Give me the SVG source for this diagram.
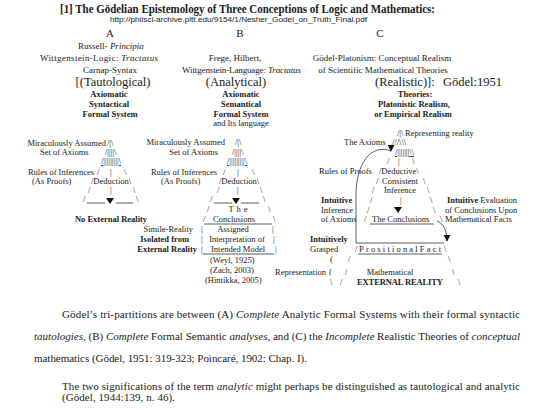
<svg xmlns="http://www.w3.org/2000/svg" width="540" height="410" viewBox="0 0 540 410">
<defs>
<style>
.t{font-family:"Liberation Serif","Times New Roman",serif;font-size:8.5px;fill:#1a1a1a}
.h{font-size:9px}
.b{font-weight:bold}
.big{font-size:12.5px}
.let{font-size:11px}
.m{text-anchor:middle}
.e{text-anchor:end}
.u{text-decoration:underline}
.ln{stroke:#333;stroke-width:0.8;fill:none}
.cap{font-family:"Liberation Serif","Times New Roman",serif;font-size:11px;fill:#1a1a1a}
.i{font-style:italic}
</style>
<marker id="tri" viewBox="0 0 10 10" refX="9" refY="5" markerWidth="7" markerHeight="7" markerUnits="userSpaceOnUse" orient="90">
<path d="M0,0 L10,5 L0,10 Z" fill="#111"/>
</marker>
</defs>
<rect width="540" height="410" fill="#fff"/>

<g id="title">
<text x="247.5" y="13" class="t b m" style="font-size:12.5px" textLength="375" lengthAdjust="spacingAndGlyphs">[1] The Gödelian Epistemology of Three Conceptions of Logic and Mathematics:</text>
<text x="110" y="22" style="font-family:'Liberation Sans',Arial,sans-serif;font-size:7.5px;fill:#1a1a1a" textLength="257" lengthAdjust="spacingAndGlyphs">http://philsci-archive.pitt.edu/9154/1/Nesher_Godel_on_Truth_Final.pdf</text>
</g>

<g id="colA" class="t">
<text x="110" y="37" class="let m">A</text>
<text x="111" y="49" class="h m">Russell- <tspan class="i">Principia</tspan></text>
<text x="40" y="61" class="h" textLength="118">Wittgenstein-Logic: <tspan class="i">Tractatus</tspan></text>
<text x="110" y="73" class="h m">Carnap-Syntax</text>
<text x="113" y="86" class="big m">[(Tautological)</text>
<text x="109" y="97" class="b m">Axiomatic</text>
<text x="109" y="107" class="b m">Syntactical</text>
<text x="110" y="117" class="b m">Formal System</text>
</g>

<g id="colB" class="t">
<text x="240" y="37" class="let m">B</text>
<text x="235" y="61" class="h m">Frege, Hilbert,</text>
<text x="182" y="73" class="h" textLength="119">Wittgenstein-Language: <tspan class="i">Tractatus</tspan></text>
<text x="236" y="86" class="big m">(Analytical)</text>
<text x="241" y="97" class="b m">Axiomatic</text>
<text x="241" y="107" class="b m">Semantical</text>
<text x="241" y="117" class="b m">Formal System</text>
<text x="241" y="126" class="m">and Its language</text>
</g>

<g id="colC" class="t">
<text x="380" y="37" class="let m">C</text>
<text x="382" y="61" class="h m">Gödel-Platonism: Conceptual Realism</text>
<text x="383" y="73" class="h m">of Scientific Mathematical Theories</text>
<text x="375" y="86" class="big">(Realistic)]:</text>
<text x="443" y="86" class="big">Gödel:1951</text>
<text x="415" y="97" class="b m">Theories:</text>
<text x="414" y="107" class="b m">Platonistic Realism,</text>
<text x="413" y="117" class="b m">or Empirical Realism</text>
</g>

<g id="pyramidA" class="t">
<text x="106" y="146" class="e">Miraculously Assumed</text>
<text x="107" y="146">/|\</text>
<text x="40" y="155">Set of Axioms</text>
<text x="105" y="155">/||||\</text>
<text x="101" y="164" class="u">/|||||||||\</text>
<text x="94" y="175" class="e">Rules of Inferences</text>
<text x="97" y="175">/</text><text x="110" y="175">|</text><text x="124" y="175">\</text>
<text x="32" y="184">(As Proofs)</text>
<text x="91" y="184">/Deduction\</text>
<text x="88" y="193">/</text><text x="110" y="193">|</text><text x="133" y="193">\</text>
<text x="83" y="202">/</text><text x="136" y="202">\</text>
<line class="ln" x1="87" y1="203" x2="105" y2="203"/>
<line class="ln" x1="116" y1="203" x2="133" y2="203"/>
<polygon points="106,198 114,198 110,204" fill="#111"/>
<text x="111" y="222" class="b m">No External Reality</text>
<text x="193" y="232" class="e">Simile-Reality</text>
<text x="189" y="242" class="b e">Isolated from</text>
<text x="197" y="252" class="b e">External Reality</text>
</g>

<g id="pyramidB" class="t">
<text x="225" y="145" class="e">Miraculously Assumed</text>
<text x="235" y="145">/|\</text>
<text x="218" y="155" class="e">Set of Axioms</text>
<text x="232" y="155">/||||\</text>
<text x="227" y="164" class="u">/|||||||||\</text>
<text x="217" y="175" class="e">Rules of Inferences</text>
<text x="223" y="175">/</text><text x="237" y="175">|</text><text x="252" y="175">\</text>
<text x="161" y="184">(As Proofs)</text>
<text x="219" y="184">/Deduction\</text>
<text x="217" y="193">/</text><text x="237" y="193">|</text><text x="260" y="193">\</text>
<text x="210" y="202">/</text><text x="263" y="202">\</text>
<line class="ln" x1="214" y1="203" x2="232" y2="203"/>
<line class="ln" x1="241" y1="203" x2="259" y2="203"/>
<polygon points="232,198 240,198 236,204" fill="#111"/>
<text x="207" y="212">/</text>
<text x="238" y="212" class="m" textLength="19">The</text>
<text x="268" y="212">\</text>
<text x="203" y="222">/</text>
<text x="234" y="222" class="m">Conclusions</text>
<text x="273" y="222">\</text>
<line class="ln" x1="204" y1="224" x2="272" y2="224"/>
<text x="201" y="232">|</text><text x="233" y="232" class="m">Assigned</text><text x="272" y="232">|</text>
<text x="201" y="242">|</text><text x="237" y="242" class="m">Interpretation of</text><text x="273" y="242">|</text>
<text x="201" y="252">|</text><text x="238" y="252" class="m">Intended Model</text><text x="275" y="252">|</text>
<line class="ln" x1="203" y1="254" x2="274" y2="254"/>
<text x="210" y="263">(Weyl, 1925)</text>
<text x="210" y="273">(Zach, 2003)</text>
<text x="205" y="283">(Hintikka, 2005)</text>
</g>

<g id="pyramidC" class="t">
<text x="397" y="136">/|\</text>
<text x="405" y="136">Representing reality</text>
<text x="344" y="145">The Axioms</text>
<text x="392" y="145">///\\\</text>
<text x="395" y="155" class="u">/|||||||\\</text>
<text x="387" y="164">/</text><text x="398" y="164">|</text><text x="412" y="164">\</text>
<text x="319" y="174">Rules of Proofs</text>
<text x="379" y="174">/Deductive\</text>
<text x="376" y="184">/</text><text x="400" y="184" class="m">Consistent</text><text x="423" y="184">\</text>
<text x="372" y="193">/</text><text x="400" y="193" class="m">Inference</text><text x="427" y="193">\</text>
<text x="321" y="203" class="b">Intuitive</text>
<text x="370" y="203">/</text><text x="400" y="203">|</text><text x="430" y="203">\</text>
<text x="447" y="203"><tspan class="b">Intuitive</tspan> Evaluation</text>
<text x="321" y="213">Inference</text>
<text x="367" y="213">/</text><text x="433" y="213">\</text>
<polygon points="394,207 402,207 398,213" fill="#111"/>
<text x="445" y="213">of Conclusions Upon</text>
<text x="321" y="222">of Axioms</text>
<text x="364" y="222">/</text>
<text x="372" y="222">The Conclusions</text>
<line class="ln" x1="370" y1="224" x2="434" y2="224"/>
<text x="440" y="222">\</text>
<text x="445" y="222">Mathematical Facts</text>
<text x="310" y="242" class="b">Intuitively</text>
<text x="310" y="252">Grasped</text>
<text x="355" y="252">/</text>
<text x="359" y="252" textLength="82" lengthAdjust="spacing">PrositionalFact</text>
<line class="ln" x1="358" y1="254" x2="442" y2="254"/>
<text x="444" y="252">\</text>
<line class="ln" x1="356" y1="243" x2="444" y2="243"/>
<text x="330" y="262">(</text><text x="348" y="262">/</text><text x="448" y="262">\</text>
<text x="326" y="275" class="e">Representation</text>
<text x="328" y="275">{</text><text x="345" y="275">/</text>
<text x="390" y="275" class="m">Mathematical</text>
<text x="452" y="275">\</text>
<text x="330" y="285">\</text><text x="340" y="285">/</text>
<text x="400" y="285" class="b m" textLength="86">EXTERNAL REALITY</text>
<text x="458" y="285">\</text>
</g>

<g id="connectors">
<path class="ln" d="M356,243 L356,195 C356,165 370,143 391,151" marker-end="url(#tri)"/>
<path class="ln" d="M437,221 C444,224 447,231 447,241" marker-end="url(#tri)"/>
</g>

<g id="caption">
<text x="62" y="318" class="cap" textLength="458">Gödel’s tri-partitions are between (A) <tspan class="i">Complete</tspan> Analytic Formal Systems with their formal syntactic</text>
<text x="34" y="340" class="cap" textLength="486"><tspan class="i">tautologies</tspan>, (B) <tspan class="i">Complete</tspan> Formal Semantic <tspan class="i">analyses</tspan>, and (C) the <tspan class="i">Incomplete</tspan> Realistic Theories of <tspan class="i">conceptual</tspan></text>
<text x="34" y="362" class="cap" textLength="273">mathematics (Gödel, 1951: 319-323; Poincaré, 1902: Chap. I).</text>
<text x="62" y="390" class="cap" textLength="458">The two significations of the term <tspan class="i">analytic</tspan> might perhaps be distinguished as tautological and analytic</text>
<text x="62" y="401" class="cap" textLength="113">(Gödel, 1944:139, n. 46).</text>
</g>
</svg>
